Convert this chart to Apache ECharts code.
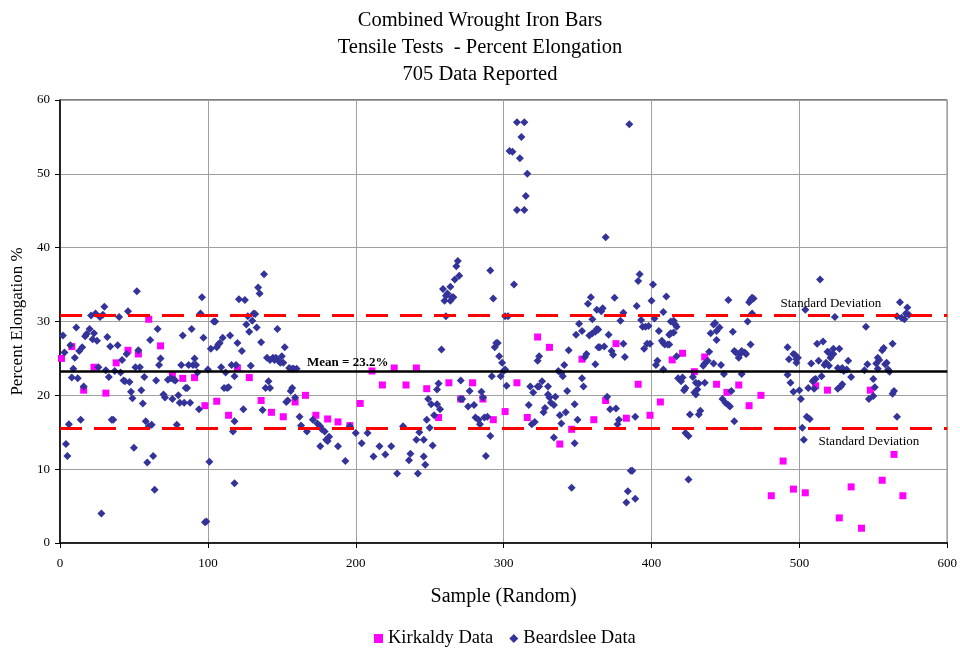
<!DOCTYPE html>
<html>
<head>
<meta charset="utf-8">
<title>Combined Wrought Iron Bars</title>
<script src="https://cdn.jsdelivr.net/npm/echarts@6/dist/echarts.min.js"></script>
<style>
    html, body { margin: 0; padding: 0; background: #fff; }
    #chart { width: 960px; height: 653px; }
</style>
</head>
<body>
<div id="chart"></div>
<script>
// 样本号 / 延伸率 %
var kirkaldyData = [
    [1, 25.0], [8, 26.6], [16, 20.7], [23, 23.8], [31, 20.3], [38, 24.4], [46, 26.1], [53, 25.6], [60, 30.3],
    [68, 26.7], [76, 22.7], [83, 22.3], [91, 22.4], [98, 18.6], [106, 19.2], [114, 17.3], [120, 23.7],
    [128, 22.4], [136, 19.3], [143, 17.7], [151, 17.1], [159, 19.1], [166, 20.0], [173, 17.3], [181, 16.8],
    [188, 16.4], [196, 15.9], [203, 18.9], [211, 23.3], [218, 21.4], [226, 23.7], [234, 21.4], [241, 23.7],
    [248, 20.9], [256, 17.0], [263, 21.7], [271, 19.5], [279, 21.7], [286, 19.5], [293, 16.7], [301, 17.8],
    [309, 21.7], [316, 17.0], [323, 27.9], [331, 26.5], [338, 13.4], [346, 15.4], [353, 24.9], [361, 16.7],
    [369, 19.3], [376, 27.0], [383, 16.9], [391, 21.5], [399, 17.3], [406, 19.1], [414, 24.8], [421, 25.7],
    [429, 23.2], [436, 25.2], [444, 21.5], [451, 20.4], [459, 21.4], [466, 18.6], [474, 20.0], [481, 6.4],
    [489, 11.1], [496, 7.3], [504, 6.8], [511, 21.3], [519, 20.7], [527, 3.4], [535, 7.6], [542, 2.0],
    [548, 20.7], [556, 8.5], [564, 12.0], [570, 6.4]
];

var beardsleeData = [
    // 0 - 60
    [2, 28.1], [3, 25.8], [7, 26.8], [10, 25.1], [11, 29.2], [13, 26.0], [15, 26.5], [9, 23.6], [8, 22.4],
    [12, 22.3], [16, 21.2], [17, 28.0], [18, 28.3], [20, 29.0], [21, 30.8], [24, 31.1], [23, 28.4], [22, 27.6],
    [25, 27.4], [27, 30.6], [29, 30.9], [30, 32.0], [26, 23.8], [31, 23.4], [32, 27.9], [33, 22.5], [34, 26.6],
    [37, 23.3], [39, 26.8], [40, 30.6], [41, 23.1], [43, 22.0], [44, 21.9], [42, 24.8], [45, 25.6], [46, 31.4],
    [47, 21.8], [48, 20.5], [49, 19.6], [52, 34.1], [51, 23.8], [54, 23.8], [53, 26.1], [55, 20.7], [56, 18.9],
    [57, 22.5], [6, 16.1], [14, 16.7], [4, 13.4], [5, 11.8], [28, 4.0], [35, 16.7], [36, 16.7], [50, 12.9],
    [58, 16.5], [59, 10.9], [60, 15.8],
    // 60 - 120
    [61, 27.5], [66, 29.0], [65, 22.0], [68, 25.0], [67, 24.1], [70, 20.1], [71, 19.7], [73, 22.1], [75, 22.3],
    [76, 19.5], [77, 22.1], [78, 22.0], [80, 20.0], [81, 19.0], [82, 24.1], [83, 28.1], [85, 21.0], [86, 21.0],
    [84, 19.0], [87, 24.1], [88, 19.0], [89, 29.0], [90, 24.1], [91, 25.0], [92, 24.1], [93, 23.1], [94, 18.1],
    [95, 31.1], [96, 33.3], [97, 27.8], [100, 23.5], [102, 26.3], [104, 30.0], [105, 30.0], [106, 26.5],
    [107, 26.9], [108, 27.1], [110, 27.8], [109, 23.8], [112, 23.1], [111, 21.0], [113, 21.0], [114, 21.1],
    [115, 28.1], [116, 24.1], [119, 24.1], [120, 27.1], [121, 33.0], [63, 11.8], [64, 7.2], [98, 2.8],
    [99, 2.9], [101, 11.0], [117, 15.1], [118, 8.1], [79, 16.0], [62, 16.0],
    // 120 - 180
    [118, 22.6], [123, 26.0], [125, 32.9], [127, 30.7], [126, 29.6], [128, 28.6], [130, 30.1], [131, 31.1],
    [132, 31.0], [133, 29.2], [129, 24.0], [134, 34.6], [135, 33.8], [136, 27.2], [138, 36.4], [140, 25.1],
    [141, 21.9], [139, 21.0], [142, 21.0], [142, 24.8], [144, 25.1], [145, 24.8], [146, 25.1], [148, 24.6],
    [149, 24.4], [150, 25.3], [151, 24.4], [152, 26.5], [147, 29.0], [155, 23.7], [157, 23.6], [158, 23.6],
    [160, 23.6], [156, 20.6], [157, 21.0], [153, 19.1], [154, 19.3], [159, 19.7], [162, 17.1], [163, 15.9],
    [167, 15.1], [171, 16.7], [174, 16.2], [176, 15.8], [177, 15.4], [179, 15.1], [180, 14.0], [181, 13.8],
    [176, 13.1], [124, 18.1], [137, 18.0], [118, 16.5], [182, 14.4],
    // 180 - 245
    [188, 13.1], [193, 11.1], [196, 15.8], [200, 14.9], [204, 13.5], [208, 14.9], [212, 11.7], [216, 13.1],
    [220, 12.0], [224, 13.1], [228, 9.4], [232, 15.8], [236, 11.2], [237, 12.1], [241, 14.0], [242, 9.4],
    [243, 15.0],
    // 245 - 305
    [246, 11.7], [247, 10.6], [246, 14.0], [248, 16.7], [249, 19.5], [250, 15.6], [251, 18.8], [252, 13.2],
    [253, 17.3], [255, 18.8], [255, 20.8], [256, 21.6], [257, 18.1], [258, 26.2], [259, 34.4], [260, 32.8],
    [261, 30.7], [261, 33.5], [262, 33.8], [264, 32.8], [264, 34.7], [265, 33.3], [266, 33.3], [267, 35.7],
    [268, 37.5], [269, 38.2], [270, 36.2], [271, 22.0], [271, 19.5], [272, 19.5], [276, 18.5], [277, 20.6],
    [280, 18.7], [281, 17.0], [283, 16.7], [284, 16.1], [285, 20.5], [286, 19.7], [287, 17.0], [289, 17.1],
    [288, 11.8], [291, 14.5], [291, 36.9], [293, 33.1], [292, 22.6], [294, 26.5], [295, 27.1], [296, 27.1],
    [297, 25.3], [299, 24.4], [298, 22.6], [300, 23.3], [301, 23.5], [302, 21.3], [301, 30.7], [303, 30.7],
    // 305 - 365
    [304, 53.1], [306, 53.0], [309, 57.0], [314, 57.0], [312, 55.0], [311, 52.1], [316, 50.0], [315, 47.0],
    [309, 45.1], [314, 45.1], [307, 35.0], [317, 18.7], [318, 21.2], [320, 20.4], [323, 21.2], [324, 21.2],
    [326, 21.9], [323, 24.7], [324, 25.3], [319, 16.1], [321, 16.4], [327, 17.7], [328, 18.3], [330, 20.1],
    [331, 19.7], [332, 19.0], [334, 18.7], [335, 19.8], [330, 21.2], [337, 23.3], [339, 23.0], [340, 22.6],
    [341, 24.1], [344, 26.1], [343, 20.6], [338, 17.3], [339, 16.2], [342, 17.7], [334, 14.3], [346, 7.5],
    [348, 18.8], [348, 13.5], [350, 16.7], [351, 29.7], [353, 28.7], [349, 28.2], [353, 22.3], [354, 21.2],
    [355, 25.2], [356, 25.6], [357, 32.4], [359, 33.3], [358, 28.1], [360, 28.4], [362, 28.6], [363, 29.0],
    [360, 30.3], [363, 31.6], [362, 24.2], [364, 26.5],
    // 365 - 425
    [364, 28.9], [365, 26.5], [368, 26.6], [366, 31.4], [367, 31.8], [369, 41.4], [370, 19.8], [371, 28.2],
    [372, 18.1], [376, 18.2], [373, 26.0], [374, 25.5], [375, 33.2], [378, 16.7], [377, 16.1], [379, 30.1],
    [381, 27.0], [381, 31.2], [382, 25.2], [384, 7.0], [383, 5.5], [385, 56.7], [386, 9.8], [387, 9.8],
    [389, 17.1], [389, 6.0], [390, 32.1], [391, 35.5], [392, 36.4], [393, 30.2], [394, 29.3], [396, 29.3],
    [398, 29.4], [395, 26.3], [397, 27.0], [399, 27.0], [400, 32.8], [401, 35.0], [402, 30.4], [403, 24.1],
    [404, 24.7], [405, 28.7], [407, 27.4], [408, 27.1], [408, 23.5], [408, 31.3], [410, 33.4], [409, 26.9],
    [411, 26.9], [412, 26.9], [412, 28.2], [413, 28.4], [415, 28.5], [413, 30.0], [415, 30.1], [416, 29.6],
    [417, 29.3], [417, 25.3], [418, 22.3], [420, 21.9], [421, 22.4], [422, 20.7], [423, 21.0], [423, 14.9],
    [425, 14.5], [425, 8.6], [426, 17.4],
    // 425 - 470
    [428, 22.5], [429, 20.4], [430, 20.1], [431, 20.8], [432, 21.6], [430, 21.7], [432, 17.4], [433, 17.9],
    [435, 24.0], [436, 24.3], [438, 24.7], [436, 21.7], [439, 25.9], [440, 28.4], [442, 29.6], [443, 29.8],
    [442, 24.3], [444, 28.7], [444, 27.5], [446, 29.2], [447, 24.1], [449, 22.9], [448, 19.5], [450, 19.0],
    [452, 18.7], [453, 18.5], [452, 32.9], [454, 20.6], [455, 28.6], [456, 26.0], [457, 25.8], [459, 25.1],
    [460, 25.6], [461, 26.0], [463, 25.8], [464, 25.6], [456, 16.5], [461, 22.9], [465, 30.0], [466, 32.6],
    [467, 32.9], [468, 33.2], [469, 33.1], [468, 31.1], [467, 26.9],
    // 490 - 548
    [492, 26.5], [493, 24.9], [496, 25.6], [497, 25.5], [498, 24.9], [499, 25.1], [498, 24.4], [492, 22.8],
    [494, 21.7], [496, 20.5], [500, 20.7], [501, 19.5], [504, 31.6], [505, 17.1], [507, 16.8], [502, 15.6],
    [503, 14.0], [506, 21.0], [508, 24.3], [509, 21.9], [510, 22.1], [511, 22.2], [510, 20.9], [512, 27.0],
    [513, 24.7], [514, 35.7], [515, 22.6], [516, 27.3], [517, 24.1], [518, 24.4], [520, 24.0], [521, 25.1],
    [520, 25.8], [523, 25.6], [519, 25.9], [524, 30.6], [523, 26.3], [527, 26.3], [526, 23.7], [528, 23.5],
    [530, 23.3], [532, 23.5], [533, 24.7], [529, 23.7], [535, 22.5], [526, 20.9], [528, 21.2], [529, 21.5],
    [544, 23.4], [545, 29.3], [546, 24.2], [547, 19.5],
    // 548 - 575
    [550, 22.2], [551, 21.1], [550, 19.9], [552, 24.3], [553, 25.1], [554, 24.8], [553, 23.6], [556, 26.1],
    [557, 26.4], [558, 24.2], [559, 24.4], [560, 23.5], [561, 23.2], [563, 27.0], [564, 20.6], [563, 20.2],
    [566, 17.1], [566, 30.7], [569, 30.5], [571, 30.3], [568, 32.6], [572, 31.1], [574, 30.9], [573, 31.9]
];

// 平均值与标准差
var meanValue = 23.2;
var sdUpper = 30.9;
var sdLower = 15.5;

var serif = '"Liberation Serif", "Times New Roman", serif';

var myScatterChart = function () {
    var chart = echarts.init(document.getElementById('chart'));
    var option = {
        backgroundColor: '#fff',
        animation: false,
        title: {
            text: 'Combined Wrought Iron Bars\nTensile Tests  - Percent Elongation\n705 Data Reported',
            left: 'center',
            top: 2,
            textStyle: {
                fontFamily: serif,
                fontSize: 20.5,
                fontWeight: 'normal',
                lineHeight: 27,
                color: '#000'
            }
        },
        legend: {
            bottom: 0,
            left: 369,
            itemWidth: 9,
            itemHeight: 9,
            itemGap: 16,
            textStyle: { fontFamily: serif, fontSize: 18.5, color: '#000' },
            data: ['Kirkaldy Data', 'Beardslee Data']
        },
        grid: {
            left: 60,
            right: 12,
            top: 100,
            bottom: 110,
            show: true,
            borderColor: '#000',
            borderWidth: 1
        },
        xAxis: {
            type: 'value',
            min: 0,
            max: 600,
            interval: 100,
            name: 'Sample (Random)',
            nameLocation: 'middle',
            nameGap: 44,
            nameTextStyle: { fontFamily: serif, fontSize: 20, color: '#000' },
            axisLine: { lineStyle: { color: '#000', width: 1.5 } },
            axisTick: { show: true, inside: false, length: 5, lineStyle: { color: '#000' } },
            axisLabel: { fontFamily: serif, fontSize: 13, color: '#000', margin: 14 },
            splitLine: { show: true, lineStyle: { color: '#a0a0a0', width: 1 } }
        },
        yAxis: {
            type: 'value',
            min: 0,
            max: 60,
            interval: 10,
            name: 'Percent Elongation %',
            nameLocation: 'middle',
            nameGap: 33,
            nameTextStyle: { fontFamily: serif, fontSize: 17, color: '#000' },
            axisLine: { lineStyle: { color: '#000', width: 1.5 } },
            axisTick: { show: true, inside: false, length: 5, lineStyle: { color: '#000' } },
            axisLabel: { fontFamily: serif, fontSize: 13, color: '#000', margin: 10 },
            splitLine: { show: true, lineStyle: { color: '#a0a0a0', width: 1 } }
        },
        series: [
            {
                name: 'Kirkaldy Data',
                type: 'scatter',
                symbol: 'rect',
                symbolSize: 7,
                itemStyle: { color: '#FF00FF', opacity: 1 },
                data: kirkaldyData
            },
            {
                name: 'Beardslee Data',
                type: 'scatter',
                symbol: 'diamond',
                symbolSize: 8,
                itemStyle: { color: '#333399', opacity: 1 },
                data: beardsleeData,
                markLine: {
                    silent: true,
                    symbol: ['none', 'none'],
                    animation: false,
                    data: [
                        {
                            yAxis: meanValue,
                            lineStyle: { color: '#000', width: 2.5, type: 'solid' },
                            label: {
                                show: true,
                                position: 'insideStartTop',
                                distance: [247, 3],
                                formatter: 'Mean = ' + meanValue + '%',
                                fontFamily: serif,
                                fontSize: 13,
                                fontWeight: 'bold',
                                color: '#000'
                            }
                        },
                        {
                            yAxis: sdUpper,
                            lineStyle: { color: '#FF0000', width: 3, type: [22, 12] },
                            label: {
                                show: true,
                                position: 'insideEndTop',
                                distance: [66, 5],
                                formatter: 'Standard Deviation',
                                fontFamily: serif,
                                fontSize: 13,
                                color: '#000'
                            }
                        },
                        {
                            yAxis: sdLower,
                            lineStyle: { color: '#FF0000', width: 3, type: [22, 12] },
                            label: {
                                show: true,
                                position: 'insideEndBottom',
                                distance: [28, 7],
                                formatter: 'Standard Deviation',
                                fontFamily: serif,
                                fontSize: 13,
                                color: '#000'
                            }
                        }
                    ]
                }
            }
        ]
    };
    chart.setOption(option);
};

myScatterChart();
</script>
</body>
</html>
